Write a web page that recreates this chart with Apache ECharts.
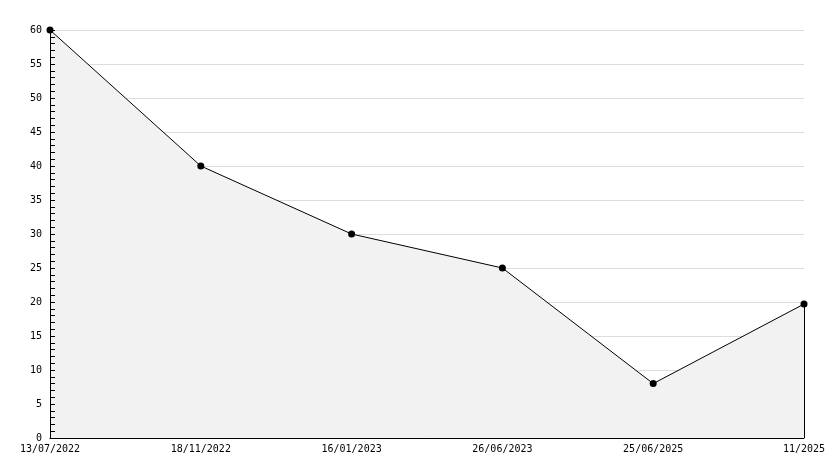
<!DOCTYPE html>
<html><head><meta charset="utf-8">
<script src="https://cdn.jsdelivr.net/npm/echarts@6/dist/echarts.min.js"></script>
<style>html,body{margin:0;padding:0;background:#fff}#c{width:834px;height:468px}</style>
</head><body><div id="c"></div>
<script>
const categories = ["13/07/2022","18/11/2022","16/01/2023","26/06/2023","25/06/2025","11/2025"];
const values = [60, 40, 30, 25, 8, 19.7];
const yMin = 0, yMax = 60, yInterval = 5;
const font = "DejaVu Sans Mono";
const chart = echarts.init(document.getElementById('c'), null, {renderer:'canvas'});
chart.setOption({
  animation:false,
  grid:{left:50,right:30,top:30,bottom:30,containLabel:false},
  xAxis:{type:'category',data:categories,boundaryGap:false,z:10,
    axisLine:{lineStyle:{color:'#000',width:1}},
    axisTick:{show:false},
    axisLabel:{color:'#000',fontFamily:font,fontSize:10,margin:6,interval:0,showMinLabel:true,showMaxLabel:true},
    splitLine:{show:false}},
  yAxis:[{type:'value',min:yMin,max:yMax,interval:yInterval,z:0,
    axisLine:{show:false},axisTick:{show:false},axisLabel:{show:false},
    splitLine:{show:true,lineStyle:{color:'#dddddd',width:1}}},
   {type:'value',min:yMin,max:yMax,interval:yInterval,position:'left',z:10,
    axisLine:{show:true,lineStyle:{color:'#000',width:1}},
    axisTick:{show:true,inside:true,length:5,lineStyle:{color:'#000'}},
    minorTick:{show:true,splitNumber:5,length:5,lineStyle:{color:'#000'}},
    axisLabel:{color:'#000',fontFamily:font,fontSize:10,margin:8},
    splitLine:{show:false}}],
  series:[{type:'line',data:values,yAxisIndex:0,
    symbol:'circle',symbolSize:7,
    itemStyle:{color:'#000'},
    lineStyle:{color:'#000',width:1},
    areaStyle:{color:'#f2f2f2',opacity:1},
    markLine:{silent:true,symbol:'none',label:{show:false},
      lineStyle:{color:'#000',width:1,type:'solid'},
      data:[[{coord:[categories.length-1,yMin]},{coord:[categories.length-1,values[values.length-1]]}]]}
  }]
});
</script></body></html>
